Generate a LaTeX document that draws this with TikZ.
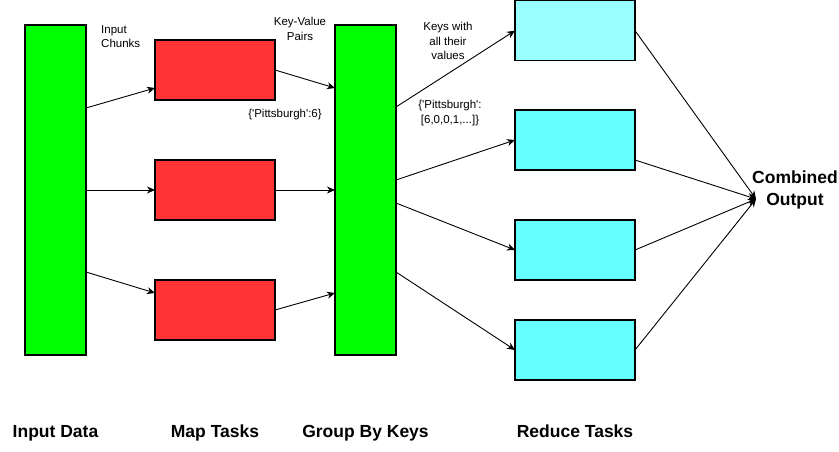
\documentclass[tikz,border=0pt]{standalone}
\usepackage{fontspec}
\setmainfont{Liberation Sans}
\usetikzlibrary{arrows.meta}
\definecolor{datagreen}{HTML}{00FF00}
\definecolor{mapred}{HTML}{FF3333}
\definecolor{reducecyan}{HTML}{66FFFF}
\definecolor{reducecyanlight}{HTML}{99FFFF}
\tikzset{
    column/.style={draw, fill=datagreen, line width=1.2pt, minimum width=61pt, minimum height=330pt, inner sep=0pt, outer sep=0pt},
    task/.style={draw, line width=1.2pt, minimum width=120pt, minimum height=60pt, inner sep=0pt, outer sep=0pt},
    flow/.style={-{Stealth[length=8pt,width=7pt,inset=2.5pt]}, line width=0.9pt},
    note/.style={font=\fontsize{11.5}{14.5}\selectfont, align=center, inner sep=0pt},
    heading/.style={font=\fontsize{17.5}{21.5}\selectfont\bfseries, align=center, inner sep=0pt}
}

\begin{document}
\begin{tikzpicture}[x=1pt, y=-1pt]
\useasboundingbox (0,0) rectangle (839,451);
\node[column] (in) at (55.5,190) {};
\node[column] (grp) at (365.5,190) {};
\foreach \i/\y in {1/70, 2/190, 3/310}{
    \node[task, fill=mapred] (map\i) at (215,\y) {};
}
\node[task, fill=reducecyanlight] (red1) at (575,30.6) {};
\foreach \i/\y in {2/140, 3/250, 4/350}{
    \node[task, fill=reducecyan] (red\i) at (575,\y) {};
}
\node[heading] (out) at (795,190) {Combined\\Output};
\coordinate (join) at ([xshift=4pt,yshift=-9pt]out.west);

\draw[flow] ([yshift=82pt]in.east) -- ([yshift=-18pt]map1.west);
\draw[flow] (in.east) -- (map2.west);
\draw[flow] ([yshift=-82pt]in.east) -- ([yshift=17pt]map3.west);
\draw[flow] (map1.east) -- ([yshift=102pt]grp.west);
\draw[flow] (map2.east) -- (grp.west);
\draw[flow] (map3.east) -- ([yshift=-103pt]grp.west);
\foreach \i/\s in {1/83, 2/10, 3/-13, 4/-82}{
    \draw[flow] ([yshift=\s pt]grp.east) -- (red\i.west);
}
\draw[flow] (red1.east) -- (join);
\draw[flow] ([yshift=-20pt]red2.east) -- (join);
\draw[flow] (red3.east) -- (join);
\draw[flow] (red4.east) -- (join);

\node[note, align=left, anchor=north west] (chunks) at (101,25) {Input\\Chunks};
\node[note] (kv) at (300,29) {Key-Value\\Pairs};
\node[note] (kvex) at (285,115) {\{\textquotesingle Pittsburgh\textquotesingle:6\}};
\node[note] (grouped) at (448,41) {Keys with\\all their\\values};
\node[note] (groupedex) at (450,113) {\{\textquotesingle Pittsburgh\textquotesingle:\\ {[}6,0,0,1,...]\}};

\foreach \col/\x/\txt in {in/55.5/Input Data, map/215/Map Tasks, grp/365.5/Group By Keys, red/575/Reduce Tasks}{
    \node[heading, anchor=base] (\col label) at (\x,437) {\txt};
}
\end{tikzpicture}
\end{document}
